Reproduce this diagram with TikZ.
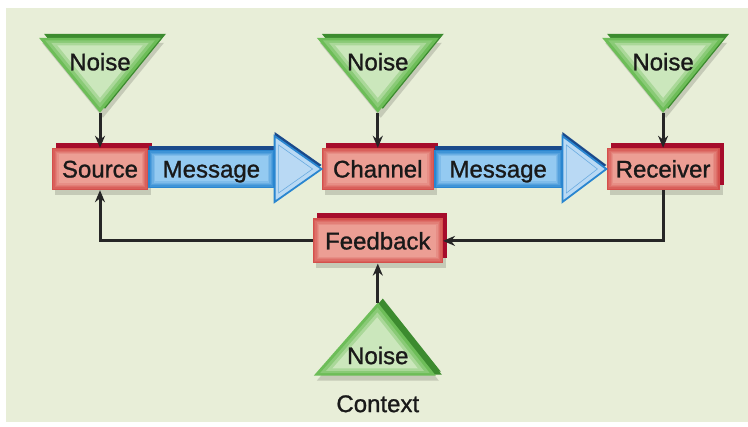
\documentclass[tikz,border=0pt]{standalone}
\usepackage{fontspec}
\setmainfont{Liberation Sans}[FakeBold=1.1]
\usetikzlibrary{arrows.meta,
                positioning,
                shadows}
\definecolor{bgcol}{HTML}{E8EED8}
\definecolor{boxred}{HTML}{D4504C}
\definecolor{boxlight}{HTML}{EC9E94}
\definecolor{boxdark}{HTML}{A60C2B}
\definecolor{barblue}{HTML}{2A86D0}
\definecolor{barlight}{HTML}{94CAF1}
\definecolor{barnavy}{HTML}{1B4A8B}
\definecolor{headblue}{HTML}{B9D9F4}
\definecolor{noisegreen}{HTML}{6DBD58}
\definecolor{noiselight}{HTML}{CBE7BC}
\definecolor{noisedark}{HTML}{3C8B2F}
\tikzset{
        glow/.style 2 args={path picture={
            \foreach \i/\p in {1/20, 2/40, 3/60, 4/80, 5/100}
                \fill[#2!\p!#1] ([shift={(\i*1.3pt,-\i*1.3pt)}]path picture bounding box.north west)
                    rectangle ([shift={(-\i*1.3pt,\i*1.3pt)}]path picture bounding box.south east);
            }},
        softshadow/.style={drop shadow={opacity=0.15, shadow xshift=3pt,
                           shadow yshift=-5pt, fill=black}},
        label/.style={font=\fontsize{24}{27}\selectfont, text=black!90,
                      text height=17pt, text depth=0pt},
        box/.style={label, rectangle, fill=boxred, minimum height=42pt,
                    inner sep=0pt, glow={boxred}{boxlight}, softshadow,
                    copy shadow={shadow xshift=4pt, shadow yshift=5pt,
                                 fill=boxdark, draw=none}},
        bar/.style={label, rectangle, fill=barblue, minimum height=38pt,
                    inner sep=0pt, glow={barblue}{barlight},
                    copy shadow={shadow xshift=1pt, shadow yshift=4pt,
                                 fill=barnavy, draw=none}},
        head/.style={fill=headblue, draw=barblue, line width=1.8pt,
                     line join=miter,
                     copy shadow={shadow xshift=0pt, shadow yshift=4pt,
                                  fill=barnavy, draw=none}},
        noisetri/.style={fill=noisegreen, softshadow,
                         copy shadow={shadow xshift=5pt, shadow yshift=4pt,
                                      fill=noisedark, draw=none}},
        myarrow/.style={-{Stealth[length=12pt, width=10pt]}, line width=3pt,
                        black!85},
 }
\begin{document}
\begin{tikzpicture}[x=1pt, y=-1pt]
    \useasboundingbox (0,0) rectangle (748,427);
    \fill[bgcol] (6,8) rectangle (748,422);

    \node[box, minimum width=96pt] (src) at (100,169) {Source};
    \node[bar, minimum width=126pt, right=0pt of src] (msg1) {Message};
    \node[box, minimum width=112pt, right=47pt of msg1] (chn) {Channel};
    \node[bar, minimum width=128pt, right=0pt of chn] (msg2) {Message};
    \node[box, minimum width=113pt, right=44pt of msg2] (rcv) {Receiver};
    \node[box, minimum width=130pt, minimum height=45pt,
          below=28pt of chn] (fb) {Feedback};

    % message arrow heads
    \foreach \m/\len in {msg1/47, msg2/44} {
        \path[head] ([yshift=33pt]\m.east) -- ([xshift=\len pt]\m.east)
            -- ([yshift=-33pt]\m.east) -- cycle;
        \draw[barblue!55!headblue, line width=0.6pt]
            ([shift={(4pt,24pt)}]\m.east) -- ([xshift=\len pt-9pt]\m.east)
            -- ([shift={(4pt,-24pt)}]\m.east) -- cycle;
    }

    % noise above the three stations
    \foreach \b in {src, chn, rcv} {
        \coordinate[above=35pt of \b] (\b-tip);
        \path[noisetri] ([shift={(-61pt,75pt)}]\b-tip)
            -- ([shift={(61pt,75pt)}]\b-tip) -- (\b-tip) -- cycle;
        \foreach \s/\p in {0.9/30, 0.8/65, 0.7/100}
            \fill[noiselight!\p!noisegreen]
                ([shift={(-61*\s pt,50pt+25*\s pt)}]\b-tip)
                -- ([shift={(61*\s pt,50pt+25*\s pt)}]\b-tip)
                -- ([shift={(0pt,50pt-50*\s pt)}]\b-tip) -- cycle;
        \node[label] (\b-noise) at ([yshift=51pt]\b-tip) {Noise};
        \draw[myarrow] (\b-tip) -- (\b);
    }

    % context noise below the feedback
    \coordinate[below=39pt of fb] (ctx-tip);
    \path[noisetri, copy shadow={shadow xshift=6pt, shadow yshift=1pt,
          fill=noisedark, draw=none}]
        ([shift={(-64pt,-73pt)}]ctx-tip)
        -- ([shift={(58pt,-73pt)}]ctx-tip) -- (ctx-tip) -- cycle;
    \foreach \s/\p in {0.9/30, 0.8/65, 0.7/100}
        \fill[noiselight!\p!noisegreen]
            ([shift={(-2pt-62*\s pt,-49pt-24*\s pt)}]ctx-tip)
            -- ([shift={(-2pt+60*\s pt,-49pt-24*\s pt)}]ctx-tip)
            -- ([shift={(-2pt+2*\s pt,-49pt+49*\s pt)}]ctx-tip) -- cycle;
    \node[label] (ctx-noise) at ([yshift=-53pt]ctx-tip) {Noise};
    \node[label] (ctx) at ([yshift=-101pt]ctx-tip) {Context};

    \draw[myarrow] (ctx-tip) -- (fb);
    \draw[myarrow] (rcv.south) |- (fb.east);
    \draw[myarrow] (fb.west) -| (src.south);
\end{tikzpicture}
\end{document}
